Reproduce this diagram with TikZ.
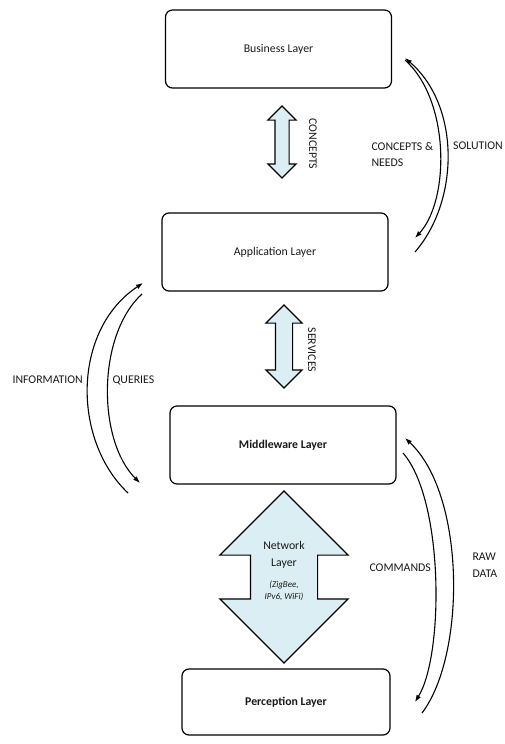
\documentclass[tikz,border=0pt]{standalone}
\usepackage{fontspec}
\setmainfont{Carlito}
\usetikzlibrary{shapes.arrows, arrows.meta}

\definecolor{arrowblue}{RGB}{218,238,244}

\begin{document}
\begin{tikzpicture}[
  x = 1pt, y = -1pt,
  every node/.style = {
    font = \fontsize{11.8}{16.5}\selectfont,
    text = black!90,
  },
  layerbox/.style = {
    shape = rectangle,
    draw = black,
    line width = 1.2pt,
    rounded corners = 7pt,
    minimum width = 226pt,
    minimum height = 78pt,
  },
  blockarrow/.style = {
    shape = double arrow,
    draw = black,
    fill = arrowblue,
    line width = 1.2pt,
    shape border rotate = 90,
  },
  flow/.style = {
    line width = 1.1pt,
    -{Latex[length = 7pt, width = 5pt]},
  }
]
  \useasboundingbox (0, 0) rectangle (504, 744);

  % the four layers
  \node[layerbox] (business) at (278.5, 49) {Business Layer};
  \node[layerbox] (application) at (275, 252) {Application Layer};
  \node[layerbox] (middleware) at (283, 445) {\textbf{Middleware Layer}};
  \node[layerbox, minimum width = 208pt, minimum height = 66pt] (perception) at (286, 702) {\textbf{Perception Layer}};

  % block arrows between layers (inner sep gives half the shaft)
  \node[blockarrow, minimum height = 72pt, inner sep = 6.5pt, double arrow head extend = 7pt] (concepts) at (282, 142) {};
  \node[blockarrow, minimum height = 83pt, inner sep = 8pt, double arrow head extend = 9.5pt] (services) at (284, 346.5) {};
  \node[blockarrow, minimum height = 172pt, inner sep = 33pt, double arrow head extend = 30.5pt] (network) at (284, 577) {};

  \node[align = center] (networkname) at (284, 555) {Network\\Layer};
  \node[align = center, font = \fontsize{9}{12}\selectfont\itshape] (protocols) at (284, 591) {(ZigBee,\\IPv6, WiFi)};

  \node[rotate = -90] (conceptslabel) at (313, 144) {CONCEPTS};
  \node[rotate = -90] (serviceslabel) at (312, 350) {SERVICES};

  % end points of the curved flows
  \coordinate (solution-tail) at (415, 252);
  \coordinate (solution-tip) at (405, 58);
  \coordinate (needs-tail) at (405, 60);
  \coordinate (needs-tip) at (415, 238);
  \coordinate (information-tail) at (128, 493);
  \coordinate (information-tip) at (143, 283);
  \coordinate (queries-tail) at (142, 294);
  \coordinate (queries-tip) at (140, 483);
  \coordinate (rawdata-tail) at (422, 713);
  \coordinate (rawdata-tip) at (405, 438);
  \coordinate (commands-tail) at (403, 453);
  \coordinate (commands-tip) at (415, 702);

  \begin{scope}[every path/.style = { flow }]
    \draw (solution-tail) .. controls (460, 200) and (460, 105) .. (solution-tip);
    \draw (needs-tail) .. controls (450, 100) and (450, 200) .. (needs-tip);
    \draw (information-tail) .. controls (72, 440) and (72, 330) .. (information-tip);
    \draw (queries-tail) .. controls (97, 335) and (97, 440) .. (queries-tip);
    \draw (rawdata-tail) .. controls (466, 655) and (466, 495) .. (rawdata-tip);
    \draw (commands-tail) .. controls (444, 500) and (444, 655) .. (commands-tip);
  \end{scope}

  \node[anchor = west, align = left] (needslabel) at (368, 154.5) {CONCEPTS \&\\NEEDS};
  \node[anchor = west, inner sep = 1pt] (solutionlabel) at (452, 146) {SOLUTION};
  \node[anchor = west] (informationlabel) at (9, 380) {INFORMATION};
  \node[anchor = west] (querieslabel) at (109, 380) {QUERIES};
  \node[anchor = west] (commandslabel) at (366, 568) {COMMANDS};
  \node[anchor = west, align = left] (rawdatalabel) at (469, 565) {RAW\\DATA};
\end{tikzpicture}
\end{document}
